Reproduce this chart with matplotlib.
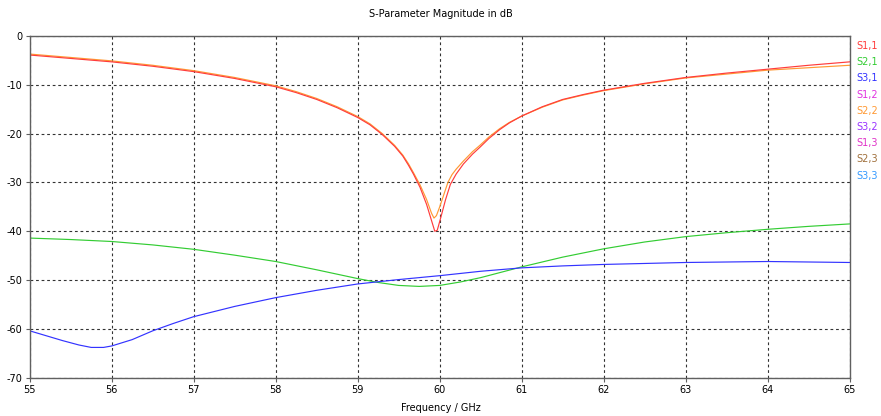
import matplotlib.pyplot as plt

plt.rcParams["axes.unicode_minus"] = False

# frequency (GHz) / magnitude (dB)
freq_s11 = [55.0, 55.5, 56.0, 56.5, 57.0, 57.5, 58.0, 58.25, 58.5, 58.75, 59.0, 59.15,
            59.3, 59.45, 59.55, 59.62, 59.68, 59.76, 59.84, 59.9, 59.94, 59.97, 60.0,
            60.04, 60.07, 60.13, 60.2, 60.29, 60.4, 60.49, 60.6, 60.73, 60.85, 61.0,
            61.25, 61.5, 61.75, 62.0, 62.25, 62.5, 62.75, 63.0, 63.5, 64.0, 64.5, 65.0]
s11 = [-3.9, -4.6, -5.3, -6.2, -7.3, -8.7, -10.4, -11.6, -13.0, -14.7, -16.7, -18.2,
       -20.2, -22.6, -24.6, -26.5, -28.3, -31.0, -34.5, -37.8, -40.0, -39.8, -38.0,
       -35.5, -33.6, -30.4, -28.3, -26.2, -24.2, -22.8, -21.0, -19.2, -17.8, -16.4,
       -14.5, -13.0, -12.0, -11.1, -10.4, -9.7, -9.1, -8.5, -7.6, -6.8, -6.0, -5.3]

freq_s22 = [55.0, 55.5, 56.0, 56.5, 57.0, 57.5, 58.0, 58.25, 58.5, 58.75, 59.0, 59.15,
            59.3, 59.45, 59.55, 59.62, 59.68, 59.76, 59.84, 59.9, 59.93, 59.96, 60.0,
            60.05, 60.1, 60.15, 60.2, 60.29, 60.4, 60.49, 60.6, 60.73, 60.85, 61.0,
            61.25, 61.5, 61.75, 62.0, 62.25, 62.5, 62.75, 63.0, 63.5, 64.0, 64.5, 65.0]
s22 = [-3.7, -4.4, -5.1, -6.0, -7.1, -8.5, -10.2, -11.4, -12.8, -14.5, -16.5, -18.0,
       -20.0, -22.4, -24.4, -26.2, -28.0, -30.5, -33.5, -36.3, -37.3, -36.8, -35.0,
       -32.5, -30.0, -28.4, -27.3, -25.6, -23.7, -22.4, -20.7, -19.0, -17.7, -16.4,
       -14.6, -13.1, -12.1, -11.2, -10.5, -9.8, -9.2, -8.6, -7.8, -7.0, -6.5, -6.0]

freq_s21 = [55.0, 55.5, 56.0, 56.5, 57.0, 57.5, 58.0, 58.5, 59.0, 59.25, 59.5, 59.75,
            60.0, 60.25, 60.5, 61.0, 61.5, 62.0, 62.5, 63.0, 63.5, 64.0, 64.5, 65.0]
s21 = [-41.4, -41.7, -42.1, -42.8, -43.7, -44.9, -46.2, -47.9, -49.7, -50.5, -51.1, -51.3,
       -51.1, -50.4, -49.5, -47.3, -45.3, -43.6, -42.2, -41.1, -40.3, -39.6, -39.0, -38.5]

freq_s31 = [55.0, 55.2, 55.4, 55.6, 55.75, 55.9, 56.0, 56.25, 56.5, 56.75, 57.0, 57.5,
            58.0, 58.5, 59.0, 59.5, 60.0, 60.5, 61.0, 61.5, 62.0, 62.5, 63.0, 63.5, 64.0,
            64.5, 65.0]
s31 = [-60.4, -61.4, -62.4, -63.3, -63.8, -63.8, -63.5, -62.2, -60.4, -58.9, -57.5, -55.4,
       -53.6, -52.1, -50.8, -49.9, -49.1, -48.2, -47.5, -47.1, -46.8, -46.6, -46.4, -46.3,
       -46.2, -46.3, -46.4]

legend_labels = ["S1,1", "S2,1", "S3,1", "S1,2", "S2,2", "S3,2", "S1,3", "S2,3", "S3,3"]
legend_colors = ["#ff3c3c", "#33cc33", "#3333ff", "#e033e0", "#ff9933",
                 "#9933ff", "#e033c8", "#a0703c", "#3399ff"]

fig = plt.figure(figsize=(8.81, 4.16), dpi=100)
ax = fig.add_axes([0.0337, 0.0921, 0.9308, 0.8214])

ax.plot(freq_s21, s21, color="#33cc33", lw=0.85)
ax.plot(freq_s31, s31, color="#3333ff", lw=0.85)
ax.plot(freq_s22, s22, color="#ff9933", lw=0.85)
ax.plot(freq_s11, s11, color="#ff3c3c", lw=0.85)

ax.set_xlim(55, 65)
ax.set_ylim(-70, 0)
ax.set_xticks(range(55, 66))
ax.set_yticks(range(-70, 1, 10))
ax.grid(True, color="#333333", lw=0.8, linestyle=(0, (2.5, 2.5)))
for sp in ax.spines.values():
    sp.set_color("#606060")
    sp.set_linewidth(1.0)
ax.tick_params(labelsize=7, length=3, width=0.8, color="#606060", pad=2)

fig.text(0.5, 0.967, "S-Parameter Magnitude in dB", ha="center", va="center", fontsize=7)
fig.text(0.5, 0.02, "Frequency / GHz", ha="center", va="center", fontsize=7)

for i, (lab, col) in enumerate(zip(legend_labels, legend_colors)):
    fig.text(0.972, 1 - (46 + i * 16.2) / 416, lab, color=col, fontsize=7, ha="left", va="center")

fig.savefig("out.png", dpi=100)
